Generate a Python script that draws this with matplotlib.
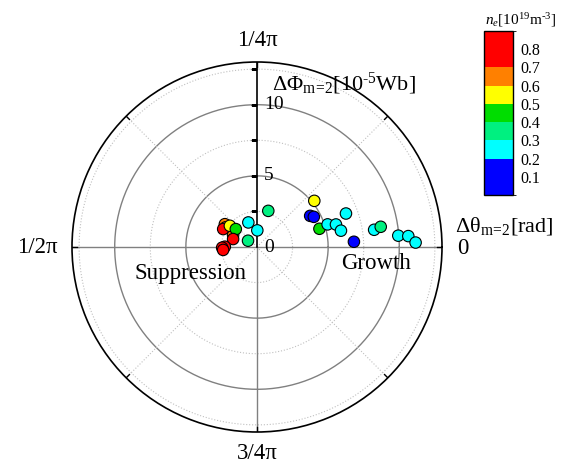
import numpy as np
import matplotlib

matplotlib.use("Agg")
import matplotlib.pyplot as plt
from matplotlib.colors import ListedColormap, BoundaryNorm
from matplotlib.cm import ScalarMappable

plt.rcParams["font.family"] = ["Liberation Serif", "DejaVu Serif"]
plt.rcParams["mathtext.fontset"] = "custom"
plt.rcParams["mathtext.rm"] = "Liberation Serif"
plt.rcParams["mathtext.it"] = "Liberation Serif:italic"
plt.rcParams["mathtext.bf"] = "Liberation Serif:bold"

# ---- data: phase shift (rad), flux change (1e-5 Wb), density (1e19 m^-3) ----
dtheta = [0.339, 0.265, 0.244, 0.142, 0.155, 0.139, 0.096, 0.180, 0.027,
          0.073, 0.081, 0.040, 0.036, 0.014,
          0.634, 0.955, 0.776, 1.265, 1.262, 1.290, 1.339, 1.327, 1.239,
          1.220, 1.410, 1.566, 1.580, 1.614]
dphi = [5.17, 4.33, 4.52, 4.57, 5.21, 5.77, 6.01, 6.68, 6.82,
        8.32, 8.81, 9.96, 10.66, 11.15,
        2.66, 1.83, 1.17, 0.77, 2.77, 2.60, 1.88, 2.69, 2.42,
        1.95, 1.77, 2.26, 2.45, 2.39]
ne = [0.55, 0.15, 0.15, 0.45, 0.25, 0.25, 0.25, 0.25, 0.15,
      0.25, 0.35, 0.25, 0.25, 0.25,
      0.35, 0.25, 0.25, 0.35, 0.65, 0.65, 0.65, 0.80, 0.55,
      0.45, 0.80, 0.80, 0.80, 0.80]

ne_bounds = [0.0, 0.2, 0.3, 0.4, 0.5, 0.6, 0.7, 0.9]
ne_colors = ["#0000ff", "#00ffff", "#00f080", "#00dd00", "#ffff00", "#ff8000", "#ff0000"]
ne_ticks = [0.1, 0.2, 0.3, 0.4, 0.5, 0.6, 0.7, 0.8]

angle_labels = ["0", "1/4\u03c0", "1/2\u03c0", "3/4\u03c0"]
r_labels = [0, 5, 10]
rmax = 13

cmap = ListedColormap(ne_colors)
norm = BoundaryNorm(ne_bounds, cmap.N)

fig = plt.figure(figsize=(5.68, 4.65), dpi=100)
ax = fig.add_axes([72 / 568, 33 / 465, 370 / 568, 370 / 465], projection="polar")
ax.set_ylim(0, rmax)
ax.set_xticks([])
ax.set_yticks([])
ax.grid(False)
ax.spines["polar"].set_linewidth(1.2)
ax.spines["polar"].set_color("black")

# grid
t = np.linspace(0, 2 * np.pi, 400)
for r in (5, 10):
    ax.plot(t, np.full_like(t, r), color="#808080", lw=1.0, zorder=1)
for r in (2.5, 7.5, 12.5):
    ax.plot(t, np.full_like(t, r), color="#c0c0c0", lw=0.8, ls=":", zorder=1)
for a in (np.pi / 4, 3 * np.pi / 4, 5 * np.pi / 4, 7 * np.pi / 4):
    ax.plot([a, a], [0, rmax], color="#c0c0c0", lw=0.8, ls=":", zorder=1)
for a in (0, np.pi, 3 * np.pi / 2):
    ax.plot([a, a], [0, rmax], color="#808080", lw=1.0, zorder=1)
ax.plot([np.pi / 2, np.pi / 2], [0, rmax], color="black", lw=1.2, zorder=2)
# small ticks on the radial axis and on the rim
for r in (2.5, 5, 7.5, 10, 12.5):
    ax.plot([np.pi / 2], [r], marker=0, ms=4, mew=1.0, color="black", zorder=2)
for a in np.arange(8) * np.pi / 4:
    ax.plot([a, a], [rmax - 0.32, rmax], color="black", lw=1.0, zorder=2)

# data
ax.scatter(2 * np.array(dtheta), dphi, c=ne, cmap=cmap, norm=norm, s=68,
           edgecolors="black", linewidths=0.8, zorder=5, clip_on=False)

# radial labels
for r in r_labels:
    ax.annotate(str(r), (np.pi / 2, r), xytext=(5, 0), textcoords="offset points",
                ha="left", va="center", fontsize=14, zorder=3)

sub = r"$_{\mathrm{m\!=\!2}}$"

# angle labels (axes fraction)
ax.text(0.5, 1.057, angle_labels[1], transform=ax.transAxes, ha="center", va="center", fontsize=16.5)
ax.text(0.5, -0.057, angle_labels[3], transform=ax.transAxes, ha="center", va="center", fontsize=16.5)
ax.text(-0.04, 0.5, angle_labels[2], transform=ax.transAxes, ha="right", va="center", fontsize=16.5)
ax.text((457 - 72) / 370, (432 - 248) / 370, angle_labels[0], transform=ax.transAxes,
        ha="left", va="center", fontsize=16.5)
ax.text((455 - 72) / 370, (432 - 226) / 370, "\u0394\u03b8" + sub + "[rad]",
        transform=ax.transAxes, ha="left", va="center", fontsize=16)
ax.text((272 - 72) / 370, (432 - 84) / 370, "\u0394\u03a6" + sub + r"[10$^{\text{-}5}$Wb]",
        transform=ax.transAxes, ha="left", va="center", fontsize=16)
ax.text((190 - 72) / 370, (432 - 273) / 370, "Suppression", transform=ax.transAxes,
        ha="center", va="center", fontsize=16.5)
ax.text((376 - 72) / 370, (432 - 263) / 370, "Growth", transform=ax.transAxes,
        ha="center", va="center", fontsize=16.5)

# colorbar
cax = fig.add_axes([484 / 568, (465 - 195) / 465, 29 / 568, 164 / 465])
cb = fig.colorbar(ScalarMappable(norm=norm, cmap=cmap), cax=cax, ticks=ne_ticks,
                  spacing="proportional")
cb.outline.set_linewidth(1.0)
cax.tick_params(length=0, labelsize=11.5, pad=5)
fig.text(521 / 568, 1 - 20 / 465, r"$n_{e}$[10$^{19}$m$^{\text{-}3}$]",
         ha="center", va="center", fontsize=11)

fig.savefig("out.png", dpi=100)
